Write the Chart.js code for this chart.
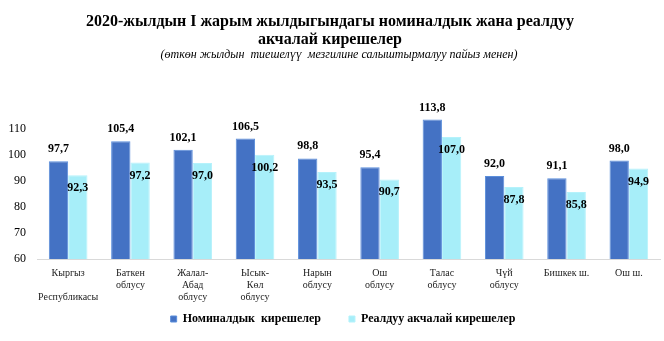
<!DOCTYPE html>
<html>
<head>
<meta charset="utf-8">
<script src="https://cdn.jsdelivr.net/npm/chart.js@4/dist/chart.umd.min.js"></script>
<style>
    html, body { margin: 0; padding: 0; background: #fff; }
    #wrap { width: 664px; height: 341px; }
</style>
</head>
<body>
<div id="wrap"><canvas id="incomeChart" width="664" height="341"></canvas></div>
<script>
// Regions (multi-line tick labels)
const regions = [
    ['Кыргыз', '', 'Республикасы'],
    ['Баткен', 'облусу'],
    ['Жалал-', 'Абад', 'облусу'],
    ['Ысык-', 'Көл', 'облусу'],
    ['Нарын', 'облусу'],
    ['Ош', 'облусу'],
    ['Талас', 'облусу'],
    ['Чүй', 'облусу'],
    ['Бишкек ш.'],
    ['Ош ш.']
];

// Nominal and real income, % of the same period of the previous year
const nominalIncome = [97.7, 105.4, 102.1, 106.5, 98.8, 95.4, 113.8, 92.0, 91.1, 98.0];
const realIncome = [92.3, 97.2, 97.0, 100.2, 93.5, 90.7, 107.0, 87.8, 85.8, 94.9];

// Y axis range and the ticks that get a label
const yMin = 60;
const yMax = 120;
const yTickLabels = [60, 70, 80, 90, 100, 110];

const serif = '"Liberation Serif", "Times New Roman", serif';

// Format a number with a comma as decimal separator
function formatValue(v) {
    return v.toFixed(1).replace('.', ',');
}

// Draws the value of every bar: nominal above the bar, real just inside its top
const barValueLabels = {
    id: 'barValueLabels',
    afterDatasetsDraw(chart) {
        const ctx = chart.ctx;
        ctx.save();
        ctx.font = 'bold 12px ' + serif;
        ctx.fillStyle = '#000';
        ctx.textAlign = 'center';
        ctx.textBaseline = 'middle';
        chart.data.datasets.forEach((ds, i) => {
            const meta = chart.getDatasetMeta(i);
            meta.data.forEach((bar, j) => {
                const text = formatValue(ds.data[j]);
                const y = i === 0 ? bar.y - 12 : bar.y + 13;
                ctx.fillText(text, bar.x, y);
            });
        });
        ctx.restore();
    }
};

// Nudges the legend a little to the right of the canvas centre
const legendOffset = {
    id: 'legendOffset',
    afterLayout(chart) {
        chart.legend.left += 13;
        chart.legend.right += 13;
    }
};

const ctx = document.getElementById('incomeChart').getContext('2d');
new Chart(ctx, {
    type: 'bar',
    data: {
        labels: regions,
        datasets: [
            {
                // trailing spaces widen the gap to the next legend item
                label: 'Номиналдык  кирешелер      ',
                data: nominalIncome,
                backgroundColor: '#4472C4',
                borderColor: '#5B8EDB',
                borderWidth: 1,
                categoryPercentage: 0.62,
                barPercentage: 1.0
            },
            {
                label: 'Реалдуу акчалай кирешелер',
                data: realIncome,
                backgroundColor: '#A7EEF9',
                borderColor: '#B5F2FB',
                borderWidth: 1,
                categoryPercentage: 0.62,
                barPercentage: 1.0
            }
        ]
    },
    options: {
        responsive: false,
        animation: false,
        layout: {
            padding: { left: 0, right: 4, top: 0, bottom: 6 }
        },
        plugins: {
            title: {
                display: true,
                text: ['2020-жылдын I жарым жылдыгындагы номиналдык жана реалдуу', 'акчалай кирешелер'],
                color: '#000',
                font: { family: serif, size: 16, weight: 'bold', lineHeight: 1.1 },
                padding: { top: 13, bottom: 0 }
            },
            subtitle: {
                display: true,
                // leading spaces push the line slightly right of centre
                text: '      (өткөн жылдын  тиешелүү  мезгилине салыштырмалуу пайыз менен)',
                color: '#000',
                font: { family: serif, size: 12, style: 'italic', lineHeight: 1.1 },
                padding: { top: 0, bottom: 42 }
            },
            legend: {
                position: 'bottom',
                labels: {
                    color: '#000',
                    font: { family: serif, size: 12, weight: 'bold' },
                    boxWidth: 6,
                    boxHeight: 6,
                    padding: 10
                }
            },
            tooltip: { enabled: false }
        },
        scales: {
            x: {
                grid: { display: false, drawTicks: false },
                border: { display: true, color: '#d9d9d9', width: 1 },
                afterFit: scale => { scale.height = 44; },
                ticks: {
                    color: '#222',
                    font: { family: serif, size: 10, lineHeight: 1.2 },
                    padding: 8,
                    maxRotation: 0,
                    autoSkip: false
                }
            },
            y: {
                min: yMin,
                max: yMax,
                grid: { display: false, drawTicks: false },
                border: { display: false },
                afterFit: scale => { scale.width = 37; },
                ticks: {
                    stepSize: 10,
                    color: '#000',
                    padding: 11,
                    font: { family: serif, size: 12 },
                    callback: value => yTickLabels.includes(value) ? value : ''
                }
            }
        }
    },
    plugins: [barValueLabels, legendOffset]
});
</script>
</body>
</html>
